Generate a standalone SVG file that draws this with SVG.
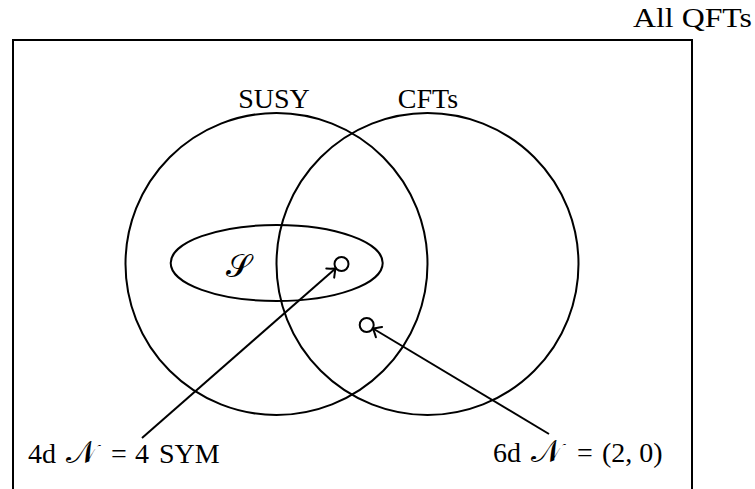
<svg xmlns="http://www.w3.org/2000/svg" width="755" height="489" viewBox="0 0 755 489">
<style>
.s{fill:none;stroke:#000;stroke-width:2}
.t{font-family:"Liberation Serif","DejaVu Serif",serif;font-size:28px;fill:#000}
.m{font-size:32px}
</style>
<defs>
<marker id="ah" viewBox="-10 -8 12 16" refX="0" refY="0" markerWidth="12" markerHeight="16" markerUnits="userSpaceOnUse" orient="auto">
<path d="M -7 -6 Q -2 -1.5 0 0 Q -2 1.5 -7 6" fill="none" stroke="#000" stroke-width="2" stroke-linecap="round"/>
</marker>
</defs>
<rect width="755" height="489" fill="#fff"/>
<g id="allqft">
<rect class="s" x="13" y="40" width="679" height="470"/>
<text class="t" x="633" y="27" textLength="119" lengthAdjust="spacingAndGlyphs">All QFTs</text>
</g>
<g id="susy">
<circle class="s" cx="276.5" cy="264" r="151"/>
<text class="t" x="274" y="108" text-anchor="middle">SUSY</text>
</g>
<g id="cfts">
<circle class="s" cx="427.5" cy="264" r="151"/>
<text class="t" x="428" y="108" text-anchor="middle">CFTs</text>
</g>
<g id="S">
<ellipse class="s" cx="276.7" cy="263" rx="106" ry="38"/>
<text class="t m" x="238" y="277" text-anchor="middle">𝒮</text>
</g>
<g id="sym4d">
<circle class="s" cx="341.5" cy="264" r="7"/>
</g>
<g id="n20">
<circle class="s" cx="366.7" cy="325" r="7"/>
</g>
<g id="connectors">
<line class="s" x1="142" y1="438" x2="335.5" y2="268.5" marker-end="url(#ah)"/>
<line class="s" x1="549" y1="434" x2="373" y2="328.5" marker-end="url(#ah)"/>
</g>
<g id="labels">
<text class="t" x="28" y="463">4d <tspan class="m" x="66">𝒩</tspan><tspan x="104"> = </tspan><tspan x="135">4 </tspan><tspan x="159">SYM</tspan></text>
<text class="t" x="493" y="462">6d <tspan class="m" x="531">𝒩</tspan><tspan x="570"> = </tspan><tspan x="602">(2, 0)</tspan></text>
</g>
</svg>
